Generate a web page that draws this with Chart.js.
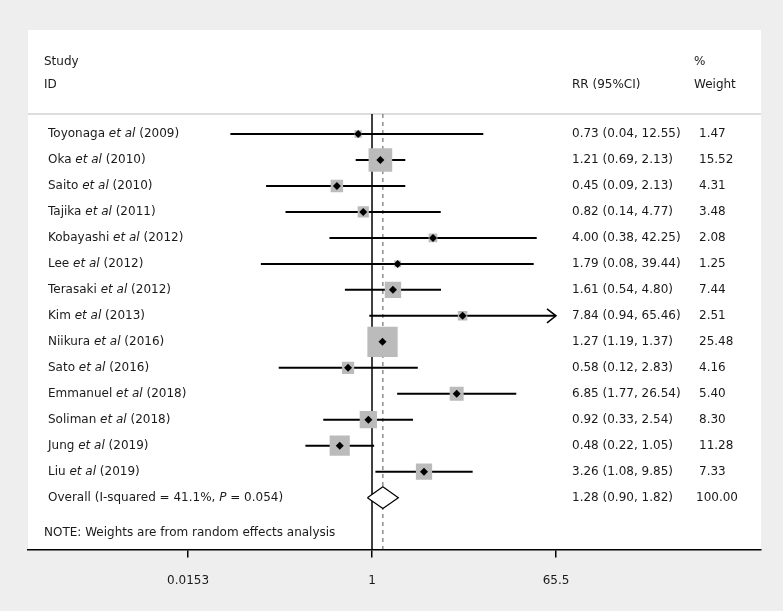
<!DOCTYPE html>
<html lang="en">
<head>
  <meta charset="UTF-8" />
  <title>Forest plot - RR</title>
  <script src="https://cdn.jsdelivr.net/npm/chart.js"></script>
  <style>
    body {
      margin: 0;
      background: #eeeeee;
      font-family: "DejaVu Sans", sans-serif;
    }
    #wrap {
      width: 783px;
      height: 611px;
    }
  </style>
</head>
<body>
  <div id="wrap"><canvas id="forest" width="783" height="611"></canvas></div>

  <script>
    // study data
    const STUDIES = ['Toyonaga', 'Oka', 'Saito', 'Tajika', 'Kobayashi', 'Lee', 'Terasaki',
                     'Kim', 'Niikura', 'Sato', 'Emmanuel', 'Soliman', 'Jung', 'Liu'];
    const YEARS = [2009, 2010, 2010, 2011, 2012, 2012, 2012, 2013, 2016, 2016, 2018, 2018, 2019, 2019];
    const RR = [0.73, 1.21, 0.45, 0.82, 4.00, 1.79, 1.61, 7.84, 1.27, 0.58, 6.85, 0.92, 0.48, 3.26];
    const LOWER = [0.04, 0.69, 0.09, 0.14, 0.38, 0.08, 0.54, 0.94, 1.19, 0.12, 1.77, 0.33, 0.22, 1.08];
    const UPPER = [12.55, 2.13, 2.13, 4.77, 42.25, 39.44, 4.80, 65.46, 1.37, 2.83, 26.54, 2.54, 1.05, 9.85];
    const WEIGHT = [1.47, 15.52, 4.31, 3.48, 2.08, 1.25, 7.44, 2.51, 25.48, 4.16, 5.40, 8.30, 11.28, 7.33];

    // pooled estimate
    const OVERALL_RR = 1.28;
    const OVERALL_CI = [0.90, 1.82];
    const OVERALL_WEIGHT = 100.00;
    const OVERALL_LABEL = ['Overall (I-squared = 41.1%, ', 'P', ' = 0.054)'];
    const NOTE = 'NOTE: Weights are from random effects analysis';

    const XTICKS = [0.0153, 1, 65.5];

    // axis limits (panel edges)
    const XMIN = 0.000402, XMAX = 6914;
    const YMIN = -0.77, YMAX = 16;
    const OVERALL_ROW = STUDIES.length;
    const NOTE_ROW = 15.35;

    const FONT = '"DejaVu Sans", sans-serif';
    const TEXT = '#1a1a1a';

    const ciLines = STUDIES.map((s, i) => ({
      type: 'line',
      data: [{ x: LOWER[i], y: i }, { x: UPPER[i], y: i }],
      borderColor: '#000',
      borderWidth: 2,
      pointRadius: 0,
      order: 3
    }));

    const datasets = [
      {
        // point estimates
        data: RR.map((v, i) => ({ x: v, y: i })),
        pointStyle: 'rectRot',
        pointRadius: 4,
        backgroundColor: '#000',
        borderWidth: 0,
        order: 0
      },
      {
        // weight boxes
        data: RR.map((v, i) => ({ x: v, y: i })),
        pointStyle: 'rect',
        pointRadius: WEIGHT.map(w => Math.sqrt(w) * 6 / Math.SQRT2),
        backgroundColor: '#bbbbbb',
        borderWidth: 0,
        order: 1
      },
      {
        // overall diamond
        type: 'line',
        data: [
          { x: OVERALL_CI[0], y: OVERALL_ROW },
          { x: OVERALL_RR, y: OVERALL_ROW - 0.42 },
          { x: OVERALL_CI[1], y: OVERALL_ROW },
          { x: OVERALL_RR, y: OVERALL_ROW + 0.42 },
          { x: OVERALL_CI[0], y: OVERALL_ROW }
        ],
        borderColor: '#000',
        borderWidth: 1.2,
        backgroundColor: '#fff',
        fill: 'shape',
        pointRadius: 0,
        tension: 0,
        order: 1
      },
      ...ciLines,
      {
        // no effect line
        type: 'line',
        data: [{ x: 1, y: YMIN }, { x: 1, y: YMAX }],
        borderColor: '#000',
        borderWidth: 1.5,
        pointRadius: 0,
        order: 5
      },
      {
        // overall effect line
        type: 'line',
        data: [{ x: OVERALL_RR, y: YMIN }, { x: OVERALL_RR, y: YMAX }],
        borderColor: '#555',
        borderWidth: 1,
        borderDash: [4, 4],
        pointRadius: 0,
        order: 5
      }
    ];

    const panelPlugin = {
      id: 'panel',
      beforeDraw(chart) {
        const { ctx, chartArea: a } = chart;
        ctx.save();
        ctx.fillStyle = '#eeeeee';
        ctx.fillRect(0, 0, chart.width, chart.height);
        ctx.fillStyle = '#fff';
        ctx.fillRect(a.left, 30, a.right - a.left, a.bottom - 30);
        ctx.strokeStyle = '#dddddd';
        ctx.lineWidth = 2;
        ctx.beginPath();
        ctx.moveTo(a.left, a.top);
        ctx.lineTo(a.right, a.top);
        ctx.stroke();
        ctx.restore();
      }
    };

    const textPlugin = {
      id: 'texts',
      afterDatasetsDraw(chart) {
        const { ctx } = chart;
        const x = chart.scales.x, y = chart.scales.y;
        const normal = '12px ' + FONT, italic = 'italic 12px ' + FONT;

        // arrows for CIs running off the axis
        ctx.save();
        ctx.strokeStyle = '#000';
        ctx.lineWidth = 1.5;
        UPPER.forEach((u, i) => {
          if (u < XTICKS[XTICKS.length - 1] * 0.99) return;
          const px = x.getPixelForValue(u), py = y.getPixelForValue(i);
          ctx.beginPath();
          ctx.moveTo(px - 9, py - 7);
          ctx.lineTo(px, py);
          ctx.lineTo(px - 9, py + 7);
          ctx.stroke();
        });

        ctx.fillStyle = TEXT;
        ctx.textBaseline = 'middle';
        ctx.font = normal;

        // header
        ctx.fillText('Study', 44, 62);
        ctx.fillText('ID', 44, 85);
        ctx.fillText('RR (95%CI)', 572, 85);
        ctx.fillText('%', 694, 62);
        ctx.fillText('Weight', 694, 85);

        const runs = (parts, px, py) => {
          parts.forEach(([t, it]) => {
            ctx.font = it ? italic : normal;
            ctx.fillText(t, px, py);
            px += ctx.measureText(t).width;
          });
        };

        STUDIES.forEach((s, i) => {
          const py = y.getPixelForValue(i);
          runs([[s + ' ', false], ['et al', true], [' (' + YEARS[i] + ')', false]], 48, py);
          ctx.font = normal;
          ctx.fillText(RR[i].toFixed(2) + ' (' + LOWER[i].toFixed(2) + ', ' + UPPER[i].toFixed(2) + ')', 572, py);
          ctx.fillText(WEIGHT[i].toFixed(2), 699, py);
        });

        const oy = y.getPixelForValue(OVERALL_ROW);
        runs([[OVERALL_LABEL[0], false], [OVERALL_LABEL[1], true], [OVERALL_LABEL[2], false]], 48, oy);
        ctx.font = normal;
        ctx.fillText(OVERALL_RR.toFixed(2) + ' (' + OVERALL_CI[0].toFixed(2) + ', ' + OVERALL_CI[1].toFixed(2) + ')', 572, oy);
        ctx.fillText(OVERALL_WEIGHT.toFixed(2), 696, oy);

        ctx.fillText(NOTE, 44, y.getPixelForValue(NOTE_ROW));
        ctx.restore();
      }
    };

    new Chart(document.getElementById('forest'), {
      type: 'scatter',
      data: { datasets },
      options: {
        responsive: false,
        animation: false,
        devicePixelRatio: 1,
        layout: { padding: { left: 28, right: 22, top: 114, bottom: 7 } },
        plugins: {
          legend: { display: false },
          tooltip: { enabled: false }
        },
        scales: {
          x: {
            type: 'logarithmic',
            min: XMIN,
            max: XMAX,
            afterBuildTicks: s => { s.ticks = XTICKS.map(v => ({ value: v })); },
            grid: { drawOnChartArea: false, drawTicks: true, tickLength: 8, color: '#000', lineWidth: 1.5 },
            border: { display: true, color: '#000', width: 1.5 },
            ticks: {
              color: TEXT,
              font: { family: FONT, size: 12 },
              padding: 16,
              autoSkip: false,
              maxRotation: 0,
              callback: v => String(v)
            }
          },
          y: {
            type: 'linear',
            display: false,
            reverse: true,
            min: YMIN,
            max: YMAX
          }
        }
      },
      plugins: [panelPlugin, textPlugin]
    });
  </script>
</body>
</html>
